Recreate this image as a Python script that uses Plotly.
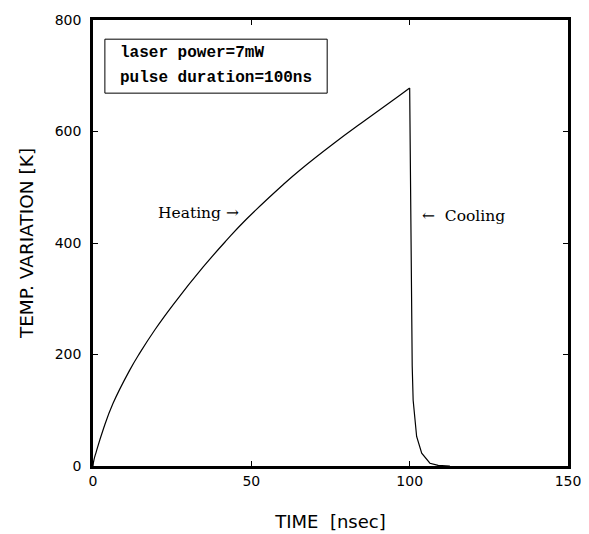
import plotly.graph_objects as go

# Heating phase
t_heat = [0, 0.3, 1.0, 3.2, 6.3, 11.6, 14.8, 19.5, 25.4, 34.8, 42.2, 48.5, 60.1, 65.4, 75.9, 86.4, 96.9, 100.0]
T_heat = [0, 11, 25, 65, 112, 172, 203, 244, 290, 357, 405, 443, 505, 531, 578, 622, 665, 678]

# Cooling phase
t_cool = [100.0, 100.3, 100.5, 100.8, 101.1, 101.7, 102.2, 103.8, 106.4, 109.0, 112.7]
T_cool = [678, 500, 300, 180, 118, 82, 53, 23, 5, 1, 0]

x_ticks = [0, 50, 100, 150]
y_ticks = [0, 200, 400, 600, 800]

fig = go.Figure()
fig.add_trace(go.Scatter(x=t_heat, y=T_heat, mode="lines",
                         line=dict(color="black", width=1.2, shape="spline", smoothing=1.3),
                         showlegend=False, hoverinfo="skip"))
fig.add_trace(go.Scatter(x=t_cool, y=T_cool, mode="lines",
                         line=dict(color="black", width=1.2),
                         showlegend=False, hoverinfo="skip"))

sans = "DejaVu Sans, Verdana, sans-serif"
axis_common = dict(showgrid=False, zeroline=False, showline=True, linecolor="black",
                   linewidth=2.5, mirror="ticks", ticks="inside", ticklen=5,
                   tickwidth=1, tickcolor="black",
                   tickfont=dict(family=sans, size=14, color="black"))

fig.update_xaxes(range=[0, 150], tickvals=x_ticks, ticktext=[str(v) for v in x_ticks],
                 title=dict(text="TIME  [nsec]", standoff=28,
                            font=dict(family=sans, size=18, color="black")),
                 **axis_common)
fig.update_yaxes(range=[0, 800], tickvals=y_ticks, ticktext=[str(v) for v in y_ticks],
                 ticklabelstandoff=6,
                 title=dict(text="TEMP. VARIATION [K]", standoff=17,
                            font=dict(family=sans, size=18.5, color="black")),
                 **axis_common)

# Info box
fig.add_shape(type="rect", xref="paper", yref="paper", x0=0.025, x1=0.493, y0=0.836, y1=0.957,
              line=dict(color="black", width=1))
mono = dict(family="Liberation Mono, Courier New, monospace", size=16, color="black")
fig.add_annotation(xref="paper", yref="paper", x=0.053, y=0.926, xanchor="left", yanchor="middle",
                   text="<b>laser power=7mW</b>", showarrow=False, font=mono)
fig.add_annotation(xref="paper", yref="paper", x=0.053, y=0.870, xanchor="left", yanchor="middle",
                   text="<b>pulse duration=100ns</b>", showarrow=False, font=mono)

serif = dict(family="DejaVu Serif, serif", size=15.5, color="black")
fig.add_annotation(xref="paper", yref="paper", x=0.312, y=0.567, xanchor="right", yanchor="middle",
                   text="Heating \u2192", showarrow=False, font=serif)
fig.add_annotation(xref="paper", yref="paper", x=0.688, y=0.561, xanchor="left", yanchor="middle",
                   text="\u2190  Cooling", showarrow=False, font=serif)

# the page body adds an 8 px offset, so the figure is laid out 8 px up/left
fig.update_layout(width=581, height=526, plot_bgcolor="white", paper_bgcolor="white",
                  margin=dict(l=85, r=21, t=12, b=68, autoexpand=False))

fig.write_html("out.html")
